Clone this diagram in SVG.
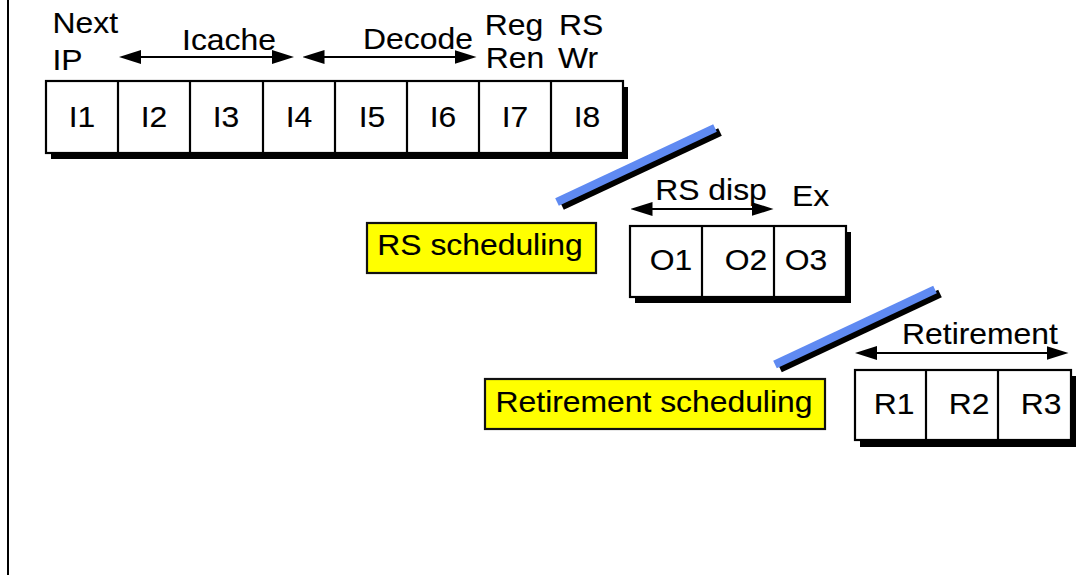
<svg xmlns="http://www.w3.org/2000/svg" width="1079" height="575" viewBox="0 0 1079 575">
  <style>
    .t { font-family: "Liberation Sans", Arial, sans-serif; font-size: 29.5px; fill: #000; stroke: #000; stroke-width: 0.12; }
    .m { text-anchor: middle; }
    .cell { fill: #fff; stroke: #000; stroke-width: 2.2; }
    .div { stroke: #000; stroke-width: 2.2; }
    .shadow { fill: #000; }
    .note { fill: #ffff00; stroke: #111; stroke-width: 2.2; }
    .span { stroke: #000; stroke-width: 2.2; fill: none; marker-start: url(#head); marker-end: url(#head); }
    .bar { stroke: #5f8af2; stroke-width: 8.5; stroke-linecap: butt; }
    .barShadow { stroke: #000; stroke-width: 8.5; stroke-linecap: butt; }
  </style>
  <defs>
    <marker id="head" markerUnits="userSpaceOnUse" markerWidth="22" markerHeight="14" refX="18" refY="7" orient="auto-start-reverse">
      <path d="M0,0 L22,7 L0,14 z" fill="#000"/>
    </marker>
  </defs>

  <rect width="1079" height="575" fill="#fff"/>
  <!-- left page rule -->
  <line x1="8" y1="0" x2="8" y2="575" stroke="#000" stroke-width="2"/>

  <!-- front-end pipeline stages -->
  <g id="frontend">
    <rect class="shadow" x="51" y="87" width="577" height="72"/>
    <rect class="cell" x="46" y="81" width="577" height="72"/>
    <line class="div" x1="118" y1="81" x2="118" y2="153"/>
    <line class="div" x1="190" y1="81" x2="190" y2="153"/>
    <line class="div" x1="263" y1="81" x2="263" y2="153"/>
    <line class="div" x1="335" y1="81" x2="335" y2="153"/>
    <line class="div" x1="407" y1="81" x2="407" y2="153"/>
    <line class="div" x1="479" y1="81" x2="479" y2="153"/>
    <line class="div" x1="551" y1="81" x2="551" y2="153"/>
    <text class="t m" transform="matrix(1.08 0 0 1 82 127)">I1</text>
    <text class="t m" transform="matrix(1.08 0 0 1 154 127)">I2</text>
    <text class="t m" transform="matrix(1.08 0 0 1 226 127)">I3</text>
    <text class="t m" transform="matrix(1.08 0 0 1 299 127)">I4</text>
    <text class="t m" transform="matrix(1.08 0 0 1 372 127)">I5</text>
    <text class="t m" transform="matrix(1.08 0 0 1 443 127)">I6</text>
    <text class="t m" transform="matrix(1.08 0 0 1 515 127)">I7</text>
    <text class="t m" transform="matrix(1.08 0 0 1 587 127)">I8</text>
  </g>

  <!-- stage labels above the front end -->
  <g id="frontend-labels">
    <text class="t" transform="matrix(1.08 0 0 1 52.5 33)">Next</text>
    <text class="t" transform="matrix(1.08 0 0 1 52.5 70)">IP</text>
    <text class="t m" transform="matrix(1.08 0 0 1 229 50)">Icache</text>
    <text class="t m" transform="matrix(1.08 0 0 1 418 48.5)">Decode</text>
    <text class="t m" transform="matrix(1.08 0 0 1 514 35)">Reg</text>
    <text class="t m" transform="matrix(1.08 0 0 1 515 68)">Ren</text>
    <text class="t m" transform="matrix(1.08 0 0 1 581 35)">RS</text>
    <text class="t m" transform="matrix(1.08 0 0 1 578 68)">Wr</text>
  </g>

  <!-- reservation station scheduling note -->
  <g id="rs-scheduling">
    <rect class="note" x="367" y="223" width="229" height="50"/>
    <text class="t m" transform="matrix(1.08 0 0 1 480 255)">RS scheduling</text>
  </g>

  <!-- out-of-order execution stages -->
  <g id="execute">
    <rect class="shadow" x="635" y="232" width="216" height="71"/>
    <rect class="cell" x="630" y="226" width="216" height="71"/>
    <line class="div" x1="702" y1="226" x2="702" y2="297"/>
    <line class="div" x1="774" y1="226" x2="774" y2="297"/>
    <text class="t m" transform="matrix(1.08 0 0 1 671 270)">O1</text>
    <text class="t m" transform="matrix(1.08 0 0 1 746 270)">O2</text>
    <text class="t m" transform="matrix(1.08 0 0 1 806 270)">O3</text>
  </g>
  <g id="execute-labels">
    <text class="t m" transform="matrix(1.08 0 0 1 711 200)">RS disp</text>
    <text class="t m" transform="matrix(1.08 0 0 1 810.5 206)">Ex</text>
  </g>

  <!-- retirement scheduling note -->
  <g id="retirement-scheduling">
    <rect class="note" x="485" y="379" width="340" height="50"/>
    <text class="t m" transform="matrix(1.08 0 0 1 654 411.5)">Retirement scheduling</text>
  </g>

  <!-- retirement stages -->
  <g id="retire">
    <rect class="shadow" x="860" y="376" width="216" height="71"/>
    <rect class="cell" x="855" y="370" width="216" height="70"/>
    <line class="div" x1="926" y1="370" x2="926" y2="440"/>
    <line class="div" x1="998" y1="370" x2="998" y2="440"/>
    <text class="t m" transform="matrix(1.08 0 0 1 894 414)">R1</text>
    <text class="t m" transform="matrix(1.08 0 0 1 969 414)">R2</text>
    <text class="t m" transform="matrix(1.08 0 0 1 1041 414)">R3</text>
  </g>
  <g id="retire-labels">
    <text class="t m" transform="matrix(1.08 0 0 1 980 344)">Retirement</text>
  </g>

  <!-- span arrows and scheduling dividers -->
  <g id="connectors">
    <line class="span" x1="123" y1="57" x2="290" y2="57"/>
    <line class="span" x1="306.5" y1="57" x2="472.5" y2="57"/>
    <line class="span" x1="634.5" y1="209" x2="769.5" y2="209"/>
    <line class="span" x1="859" y1="353" x2="1064.5" y2="353"/>

    <line class="barShadow" x1="562" y1="206" x2="720" y2="132"/>
    <line class="bar" x1="557" y1="202" x2="715" y2="128"/>
    <line class="barShadow" x1="780" y1="368.5" x2="940" y2="293.5"/>
    <line class="bar" x1="775" y1="364.5" x2="935" y2="289.5"/>
  </g>
</svg>
